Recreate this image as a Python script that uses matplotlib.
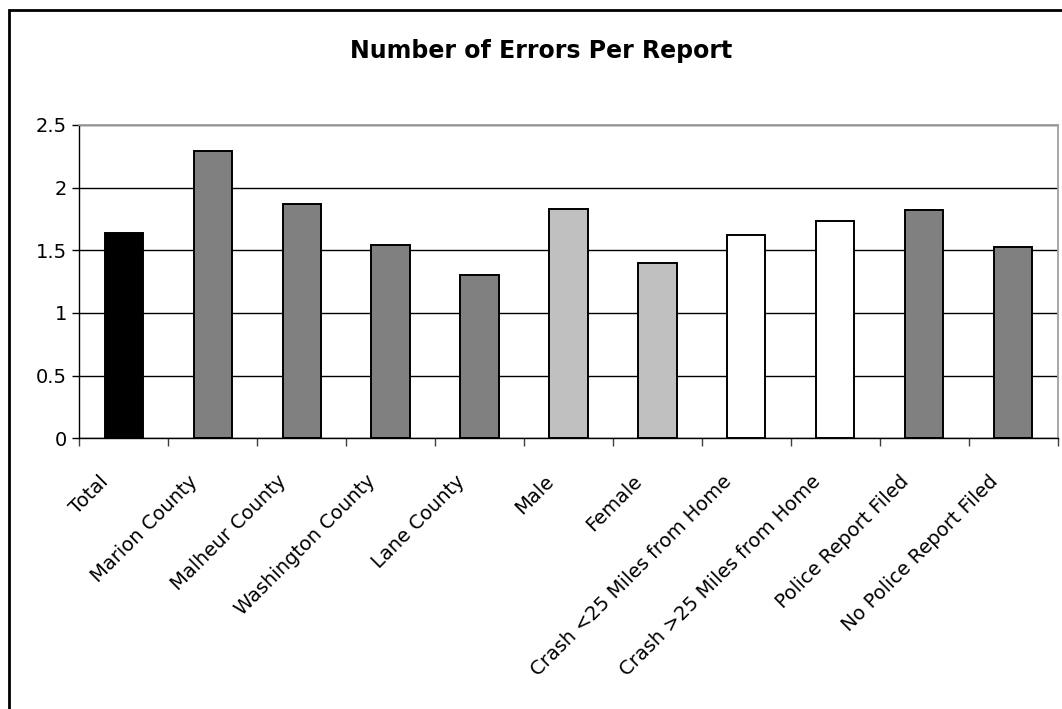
import numpy as np
import matplotlib.pyplot as plt
import matplotlib.transforms as mtransforms
from matplotlib.patches import Rectangle
from matplotlib.ticker import FixedLocator

plt.rcParams['font.family'] = ['DejaVu Sans']

categories = ['Total', 'Marion County', 'Malheur County', 'Washington County',
              'Lane County', 'Male', 'Female', 'Crash <25 Miles from Home',
              'Crash >25 Miles from Home', 'Police Report Filed',
              'No Police Report Filed']
errors = [1.64, 2.29, 1.87, 1.54, 1.30, 1.83, 1.40, 1.62, 1.73, 1.82, 1.53]
groups = ['total', 'county', 'county', 'county', 'county', 'sex', 'sex',
          'distance', 'distance', 'police', 'police']
group_colors = {'total': '#000000', 'county': '#808080', 'sex': '#c0c0c0',
                'distance': '#ffffff', 'police': '#808080'}

fig = plt.figure(figsize=(10.62, 7.09), dpi=100)
ax = fig.add_axes([0.0747, 0.3818, 0.9212, 0.4419])

x = np.arange(len(categories))
ax.bar(x, errors, width=0.43, color=[group_colors[g] for g in groups],
       edgecolor='black', linewidth=1.4, zorder=3)

ax.set_xlim(-0.5, len(categories) - 0.5)
ax.set_ylim(0, 2.5)
ax.set_yticks([0, 0.5, 1, 1.5, 2, 2.5])
ax.set_yticklabels(['0', '0.5', '1', '1.5', '2', '2.5'], fontsize=14)
ax.yaxis.grid(True, color='black', linewidth=1)
ax.set_axisbelow(True)

ax.set_xticks(x)
ax.set_xticklabels(categories, rotation=45, ha='right', va='center',
                   rotation_mode='anchor', fontsize=14)
ax.tick_params(axis='x', which='major', length=0, pad=29)
shift = mtransforms.ScaledTranslation(-0.18, 0, fig.dpi_scale_trans)
for lbl in ax.get_xticklabels():
    lbl.set_transform(lbl.get_transform() + shift)
ax.xaxis.set_minor_locator(FixedLocator(np.arange(len(categories) + 1) - 0.5))
ax.tick_params(axis='x', which='minor', length=6, width=1, color='#404040')
ax.tick_params(axis='y', length=5, width=1, pad=4)

for side in ('left', 'bottom'):
    ax.spines[side].set_color('black')
    ax.spines[side].set_linewidth(1)
for side in ('top', 'right'):
    ax.spines[side].set_color('#a0a0a0')
    ax.spines[side].set_linewidth(1.3)

fig.text(0.51, 0.9175, 'Number of Errors Per Report', ha='center',
         va='baseline', fontsize=17, fontweight='bold')

# outer chart frame, running off the bottom/right edge
fig.patches.append(Rectangle((9 / 1062, -0.1), 1.2, 1 - 10 / 709 + 0.1,
                             transform=fig.transFigure, fill=False,
                             edgecolor='black', linewidth=2))

fig.savefig('out.png', dpi=100)
